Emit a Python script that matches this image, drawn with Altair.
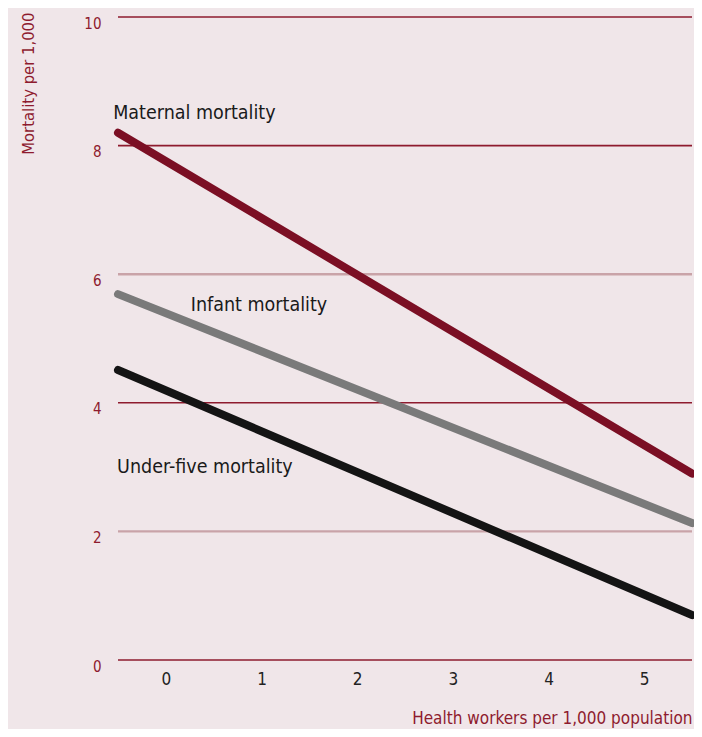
import altair as alt
import pandas as pd

series = ["Maternal mortality", "Infant mortality", "Under-five mortality"]
x_start = [-0.5, -0.5, -0.5]
x_end = [5.5, 5.5, 5.5]
y_start = [8.2, 5.69, 4.51]
y_end = [2.9, 2.13, 0.70]
series_colors = ["#7b0f24", "#7a7a7a", "#141414"]

label_x = [-0.55, 0.26, -0.51]
label_y = [8.5, 5.52, 3.0]

grid_values = [0, 2, 4, 6, 8, 10]
grid_colors = ["#8e1b2e", "#c9a3a8", "#8e1b2e", "#c9a3a8", "#8e1b2e", "#8e1b2e"]
grid_widths = [1.6, 2.4, 1.6, 2.4, 1.6, 1.6]

x_ticks = [0, 1, 2, 3, 4, 5]

rows = []
for s, xs, xe, ys, ye in zip(series, x_start, x_end, y_start, y_end):
    rows.append({"series": s, "x": xs, "y": ys})
    rows.append({"series": s, "x": xe, "y": ye})
lines_df = pd.DataFrame(rows)
labels_df = pd.DataFrame({"series": series, "x": label_x, "y": label_y})
grid_df = pd.DataFrame({"v": grid_values, "c": grid_colors, "w": grid_widths})

FONT = "DejaVu Sans Condensed, Liberation Sans, sans-serif"
RED = "#8e1b2e"

xscale = alt.Scale(domain=[-0.5, 5.5], nice=False, zero=False)
yscale = alt.Scale(domain=[0, 10], nice=False)

xaxis = alt.Axis(values=x_ticks, format="d", title="Health workers per 1,000 population",
                 domain=False, ticks=False, grid=False,
                 labelFontSize=17, labelColor="#222222", labelPadding=11, labelFont=FONT,
                 titleFont=FONT, titleFontSize=17, titleFontWeight="normal", titleColor=RED,
                 titleAnchor="end", titleAlign="right", titleX=574, titleY=63,
                 titleBaseline="alphabetic")
yaxis = alt.Axis(values=grid_values, format="d", title="Mortality per 1,000",
                 domain=False, ticks=False, grid=False,
                 labelFontSize=15, labelColor=RED, labelPadding=17, labelFont=FONT,
                 labelOffset=6,
                 titleFont=FONT, titleFontSize=16.5, titleFontWeight="normal", titleColor=RED,
                 titleAngle=-90, titleAlign="right", titleBaseline="middle",
                 titleX=-90, titleY=-5)

grid = alt.Chart(grid_df).mark_rule().encode(
    y=alt.Y("v:Q", scale=yscale, axis=yaxis),
    color=alt.Color("c:N", scale=None, legend=None),
    strokeWidth=alt.StrokeWidth("w:Q", scale=None, legend=None),
)

lines = alt.Chart(lines_df).mark_line(strokeWidth=8, strokeCap="round").encode(
    x=alt.X("x:Q", scale=xscale, axis=xaxis),
    y=alt.Y("y:Q", scale=yscale),
    color=alt.Color("series:N", scale=alt.Scale(domain=series, range=series_colors), legend=None),
    detail="series:N",
)

labels = alt.Chart(labels_df).mark_text(
    align="left", baseline="middle", font=FONT, fontSize=19.5, color="#1a1a1a"
).encode(
    x=alt.X("x:Q", scale=xscale),
    y=alt.Y("y:Q", scale=yscale),
    text="series:N",
)

chart = alt.layer(grid, lines, labels).properties(
    width=574, height=643,
    padding={"left": 110, "top": 9, "right": 2, "bottom": 69},
    autosize=alt.AutoSizeParams(type="none"),
    background="#f0e6e9",
).configure_view(stroke=None, fill="#f0e6e9")

chart.save("out.html", embed_options={"renderer": "svg", "actions": False})
